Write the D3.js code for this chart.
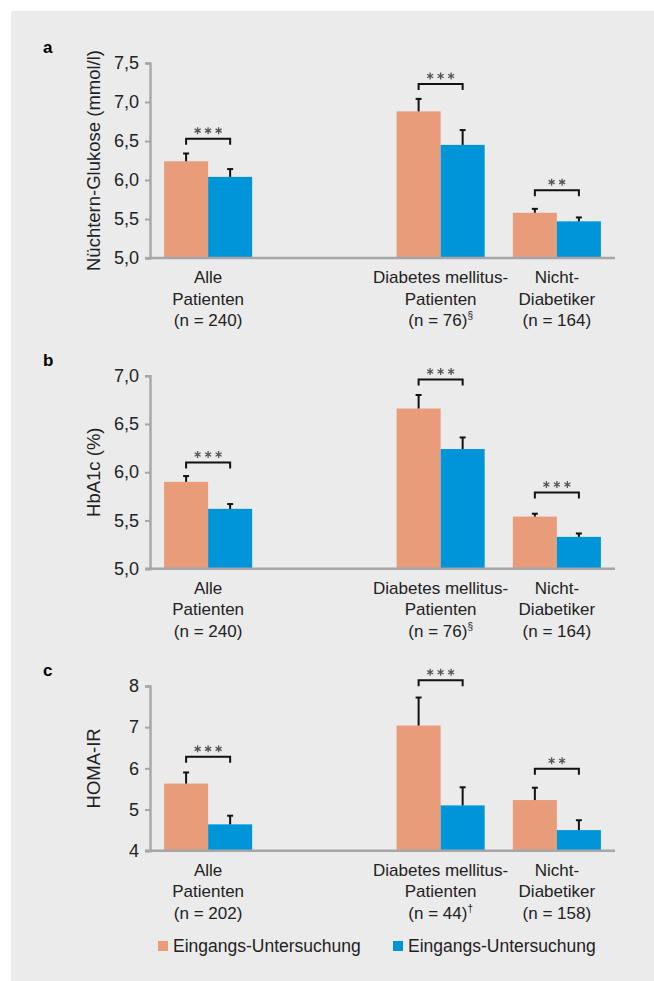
<!DOCTYPE html>
<html>
<head>
<meta charset="utf-8">
<script src="https://cdn.jsdelivr.net/npm/d3@7"></script>
<style>
  body { margin: 0; background: #fff; }
  svg { display: block; font-family: "Liberation Sans", Arial, sans-serif; }
</style>
</head>
<body>
<svg id="chart" width="654" height="981"></svg>
<script>
// groups along the x axis, "gap" is the empty slot
const groups = ["alle", "gap", "dm", "non"];
const barGroups = ["alle", "dm", "non"];
const series = ["pre", "post"];
const legendLabels = ["Eingangs-Untersuchung", "Eingangs-Untersuchung"];

// panel a: Nüchtern-Glukose
const preA = [6.24, 6.88, 5.58];
const preErrA = [0.10, 0.16, 0.05];
const postA = [6.04, 6.45, 5.47];
const postErrA = [0.10, 0.19, 0.05];
const starsA = [3, 3, 2];
const bracketA = [6.53, 7.23, 5.87];
const labelsA = [["Alle", "Patienten", "(n = 240)"], ["Diabetes mellitus-", "Patienten", "(n = 76)§"], ["Nicht-", "Diabetiker", "(n = 164)"]];
const ticksA = [5.0, 5.5, 6.0, 6.5, 7.0, 7.5];

// panel b: HbA1c
const preB = [5.90, 6.66, 5.54];
const preErrB = [0.06, 0.14, 0.03];
const postB = [5.62, 6.24, 5.33];
const postErrB = [0.05, 0.12, 0.035];
const starsB = [3, 3, 3];
const bracketB = [6.10, 6.96, 5.79];
const labelsB = [["Alle", "Patienten", "(n = 240)"], ["Diabetes mellitus-", "Patienten", "(n = 76)§"], ["Nicht-", "Diabetiker", "(n = 164)"]];
const ticksB = [5.0, 5.5, 6.0, 6.5, 7.0];

// panel c: HOMA-IR
const preC = [5.63, 7.04, 5.23];
const preErrC = [0.27, 0.68, 0.30];
const postC = [4.64, 5.10, 4.50];
const postErrC = [0.21, 0.44, 0.24];
const starsC = [3, 3, 2];
const bracketC = [6.28, 8.14, 5.99];
const labelsC = [["Alle", "Patienten", "(n = 202)"], ["Diabetes mellitus-", "Patienten", "(n = 44)†"], ["Nicht-", "Diabetiker", "(n = 158)"]];
const ticksC = [4, 5, 6, 7, 8];

const colors = { pre: "#e99c7a", post: "#0095d9" };

const svg = d3.select("#chart");

svg.append("rect")
    .attr("x", 11).attr("y", 11)
    .attr("width", 654 - 11).attr("height", 981 - 11)
    .attr("fill", "#ebebeb");

const x = d3.scaleBand().domain(groups).range([150, 615]);
const x1 = d3.scaleBand().domain(series).range([0, x.bandwidth()]).paddingOuter(0.32);

const panels = [
    { letter: "a", title: "Nüchtern-Glukose (mmol/l)", pre: preA, preErr: preErrA, post: postA, postErr: postErrA,
      stars: starsA, bracket: bracketA, labels: labelsA, ticks: ticksA, domain: [5, 7.5], range: [258, 63], fmt: d3.format(".1f") },
    { letter: "b", title: "HbA1c (%)", pre: preB, preErr: preErrB, post: postB, postErr: postErrB,
      stars: starsB, bracket: bracketB, labels: labelsB, ticks: ticksB, domain: [5, 7], range: [568.7, 375.7], fmt: d3.format(".1f") },
    { letter: "c", title: "HOMA-IR", pre: preC, preErr: preErrC, post: postC, postErr: postErrC,
      stars: starsC, bracket: bracketC, labels: labelsC, ticks: ticksC, domain: [4, 8], range: [850.7, 686], fmt: d3.format("d") }
];

const star = d3.symbol().type(d3.symbolAsterisk).size(34);

panels.forEach(p => {
    const y = d3.scaleLinear().domain(p.domain).range(p.range);
    const g = svg.append("g");
    const base = p.range[0];

    // panel letter
    g.append("text")
        .attr("x", 43).attr("y", p.range[1] - 10)
        .attr("font-weight", "bold").attr("font-size", 17)
        .text(p.letter);

    // y title
    g.append("text")
        .attr("transform", `translate(100,${(p.range[0] + p.range[1]) / 2}) rotate(-90)`)
        .attr("text-anchor", "middle").attr("font-size", 18.5).attr("fill", "#222")
        .text(p.title);

    // bars
    const rows = [];
    barGroups.forEach((k, i) => {
        rows.push({ g: k, s: "pre", v: p.pre[i], e: p.preErr[i] });
        rows.push({ g: k, s: "post", v: p.post[i], e: p.postErr[i] });
    });

    g.selectAll("rect.bar").data(rows).join("rect")
        .attr("class", "bar")
        .attr("x", d => x(d.g) + x1(d.s))
        .attr("width", x1.bandwidth())
        .attr("y", d => y(d.v))
        .attr("height", d => base - y(d.v))
        .attr("fill", d => colors[d.s]);

    // error bars (upper only)
    const err = g.selectAll("g.err").data(rows).join("g").attr("class", "err")
        .attr("transform", d => `translate(${x(d.g) + x1(d.s) + x1.bandwidth() / 2},0)`);
    err.append("line")
        .attr("y1", d => y(d.v)).attr("y2", d => y(d.v + d.e))
        .attr("stroke", "#111").attr("stroke-width", 2);
    err.append("line")
        .attr("x1", -3).attr("x2", 3)
        .attr("y1", d => y(d.v + d.e)).attr("y2", d => y(d.v + d.e))
        .attr("stroke", "#111").attr("stroke-width", 2);

    // axes
    const yAxis = g.append("g")
        .attr("transform", "translate(150,0)")
        .call(d3.axisLeft(y).tickValues(p.ticks).tickFormat(d => p.fmt(d).replace(".", ",")).tickSize(5).tickPadding(6));
    yAxis.select(".domain").attr("stroke", "#a6a6a8").attr("stroke-width", 2.4);
    yAxis.selectAll(".tick line").attr("stroke", "#a6a6a8").attr("stroke-width", 2);
    yAxis.selectAll(".tick text").attr("font-size", 18).attr("fill", "#222")
        .attr("font-family", "Liberation Sans, Arial, sans-serif");

    g.append("line")
        .attr("x1", 145).attr("x2", x.range()[1])
        .attr("y1", base).attr("y2", base)
        .attr("stroke", "#a6a6a8").attr("stroke-width", 2.4);

    // category labels (one text, lines as tspans)
    barGroups.forEach((k, i) => {
        const cx = x(k) + x.bandwidth() / 2;
        const t = g.append("text")
            .attr("x", cx).attr("y", base + 25)
            .attr("text-anchor", "middle").attr("font-size", 17).attr("fill", "#222");
        p.labels[i].forEach((line, j) => {
            const m = line.match(/^(.*?)([§†])$/);
            const ts = t.append("tspan").attr("x", cx).attr("dy", j === 0 ? 0 : 21.5);
            if (m) {
                ts.text(m[1]);
                t.append("tspan").attr("font-size", 10).attr("dy", -7).text(m[2]);
            } else {
                ts.text(line);
            }
        });

        // significance bracket
        const xa = x(k) + x1("pre") + x1.bandwidth() / 2;
        const xb = x(k) + x1("post") + x1.bandwidth() / 2;
        const by = y(p.bracket[i]);
        g.append("path")
            .attr("d", `M${xa},${by + 6}V${by}H${xb}V${by + 6}`)
            .attr("fill", "none").attr("stroke", "#111").attr("stroke-width", 2);
        const n = p.stars[i];
        const mid = (xa + xb) / 2;
        for (let s = 0; s < n; s++) {
            g.append("path")
                .attr("d", star())
                .attr("transform", `translate(${mid + (s - (n - 1) / 2) * 10.5},${by - 8})`)
                .attr("fill", "none").attr("stroke", "#555").attr("stroke-width", 1.3);
        }
    });
});

// legend
const legend = svg.append("g");
series.forEach((s, i) => {
    const lx = i === 0 ? 158 : 393;
    legend.append("rect")
        .attr("x", lx).attr("y", 941).attr("width", 10).attr("height", 10)
        .attr("fill", colors[s]);
    legend.append("text")
        .attr("x", lx + 15).attr("y", 952)
        .attr("font-size", 17.5).attr("fill", "#222")
        .text(legendLabels[i]);
});
</script>
</body>
</html>
